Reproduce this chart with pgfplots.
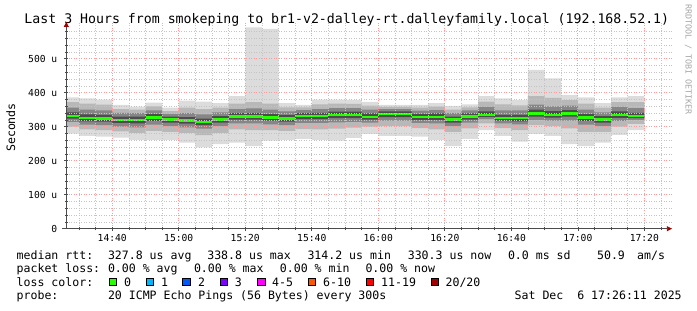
\documentclass[border=0pt]{standalone}
\usepackage{fontspec}
\setmainfont{DejaVu Sans Mono}
\usepackage{pgfplots}
\pgfplotsset{compat=1.18}
\usepackage{pgfplotstable}
\usepgfplotslibrary{fillbetween}
\usetikzlibrary{arrows.meta}

\definecolor{smokeA}{HTML}{DCDCDC}
\definecolor{smokeB}{HTML}{B8B8B8}
\definecolor{smokeC}{HTML}{868686}
\definecolor{smokeD}{HTML}{4C4C4C}
\definecolor{lc0}{HTML}{26FF00}
\definecolor{lc1}{HTML}{00B8FF}
\definecolor{lc2}{HTML}{0059FF}
\definecolor{lc3}{HTML}{7E00FF}
\definecolor{lc4}{HTML}{FF00FF}
\definecolor{lc6}{HTML}{FF5500}
\definecolor{lc11}{HTML}{FF0000}
\definecolor{lc20}{HTML}{A10000}
\definecolor{arr}{HTML}{A00000}
\definecolor{mgrid}{HTML}{FF9A9A}
\definecolor{ngrid}{HTML}{C4C4C4}

% t = start of 5-minute step (minutes after 14:00); values in microseconds
\pgfplotstableread{
t   mn  l1  l2  l3  md  h3  h2  h1  mx
25  280 300 314 324 332 342 356 372 386
30  273 292 306 316 325 336 350 368 383
35  271 290 305 315 324 335 348 365 380
40  268 286 300 311 320 330 341 352 364
45  261 282 298 310 320 330 340 350 359
50  261 288 306 317 327 337 348 360 371
55  261 285 302 312 321 330 338 346 356
60  253 282 298 309 318 328 340 356 377
65  239 275 294 305 314 324 336 352 374
70  249 282 302 312 321 331 342 356 369
75  253 292 310 321 330 340 352 368 390
80  243 290 310 321 330 340 354 372 592
85  259 290 307 318 327 337 350 368 588
90  261 288 305 315 324 334 345 357 369
95  264 293 311 322 331 340 349 357 364
100 261 292 311 322 331 341 352 366 380
105 259 294 313 325 334 344 355 368 380
110 267 297 314 325 334 344 355 367 379
115 279 300 312 321 329 339 350 362 373
120 273 302 318 328 337 345 352 358 364
125 273 302 318 328 337 345 352 358 364
130 271 296 311 320 329 338 347 356 364
135 261 292 310 320 329 339 349 359 369
140 243 285 302 312 321 330 340 350 361
145 264 295 312 321 330 339 348 357 366
150 290 310 322 329 335 345 358 374 390
155 273 296 310 318 325 335 348 366 383
160 256 290 307 316 325 335 348 363 379
165 279 305 320 330 339 350 365 390 467
170 273 302 318 327 335 346 360 385 442
175 249 295 318 330 339 349 362 378 393
180 243 285 306 317 327 337 350 368 386
185 253 285 302 312 321 331 342 356 369
190 276 300 317 326 335 345 358 372 386
195 290 308 320 325 331 341 355 372 390
200 290 308 320 325 331 341 355 372 390
}\smoke

\newcommand\lt[3]{\node[anchor=base west, inner sep=0pt, font=\fontsize{11.6}{12}\selectfont] at (#1,#2) {#3};}
\newcommand\lbox[3]{\filldraw[fill=#3, draw=black, line width=0.7bp] (#1,24.3) rectangle (#2,31.7);}

\begin{document}
\begin{tikzpicture}[x=1bp,y=1bp]
\path (0,0) rectangle (697,310);
\begin{axis}[
  at={(66.3bp,81.3bp)}, anchor=south west,
  scale only axis, width=605.6bp, height=206.7bp,
  xmin=26.18, xmax=208.3, ymin=0, ymax=608,
  axis on top,
  axis lines=left,
  axis line style={draw=black!70, line width=0.8bp, -{Triangle[length=5bp,width=5bp,color=arr,fill=arr]}},
  x axis line style={shorten <=-4bp},
  xtick={40,60,...,200},
  xticklabels={14:40,15:00,15:20,15:40,16:00,16:20,16:40,17:00,17:20},
  minor xtick={30,35,45,50,55,65,70,75,85,90,95,105,110,115,125,130,135,145,150,155,165,170,175,185,190,195,205},
  ytick={0,100,...,500},
  yticklabels={0,100 u,200 u,300 u,400 u,500 u},
  minor ytick={20,40,60,80,120,140,160,180,220,240,260,280,320,340,360,380,420,440,460,480,520,540,560,580},
  tick align=center,
  major tick length=4bp, minor tick length=3bp,
  tick style={black!70, line width=0.6bp},
  grid=both,
  major grid style={mgrid, line width=0.8bp, dash pattern=on 1bp off 1.5bp},
  minor grid style={ngrid, line width=0.7bp, dash pattern=on 1bp off 1.5bp},
  ticklabel style={font=\fontsize{9.7}{10}\selectfont},
  yticklabel style={xshift=-3.5bp},
  /pgf/number format/assume math mode=true,
]
\addplot[name path=mx, draw=none, const plot, forget plot] table[x=t,y=mx]{\smoke};
\addplot[name path=mn, draw=none, const plot, forget plot] table[x=t,y=mn]{\smoke};
\addplot[name path=h1, draw=none, const plot, forget plot] table[x=t,y=h1]{\smoke};
\addplot[name path=l1, draw=none, const plot, forget plot] table[x=t,y=l1]{\smoke};
\addplot[name path=h2, draw=none, const plot, forget plot] table[x=t,y=h2]{\smoke};
\addplot[name path=l2, draw=none, const plot, forget plot] table[x=t,y=l2]{\smoke};
\addplot[name path=h3, draw=none, const plot, forget plot] table[x=t,y=h3]{\smoke};
\addplot[name path=l3, draw=none, const plot, forget plot] table[x=t,y=l3]{\smoke};
\addplot[smokeA, draw=none] fill between[of=mx and mn];
\addplot[smokeB, draw=none] fill between[of=h1 and l1];
\addplot[smokeC, draw=none] fill between[of=h2 and l2];
\addplot[smokeD, draw=none] fill between[of=h3 and l3];
\addplot[lc0, line width=2.2bp, jump mark left, mark=none] table[x=t,y=md]{\smoke};
\end{axis}

\node[anchor=west, inner sep=0pt, font=\fontsize{13.27}{14}\selectfont] at (24.3,290.5) {Last 3 Hours from smokeping to br1-v2-dalley-rt.dalleyfamily.local (192.168.52.1)};
\node[rotate=90, inner sep=0pt, font=\fontsize{11.6}{12}\selectfont] at (10.7,182.5) {Seconds};
\node[rotate=-90, anchor=west, inner sep=0pt, text=black!35, font=\fontsize{8.4}{9}\selectfont] at (688.3,306) {RRDTOOL / TOBI OETIKER};

\lt{16.5}{50.8}{median rtt:}
\lt{107.8}{50.8}{327.8 us avg}
\lt{207.1}{50.8}{338.8 us max}
\lt{307.3}{50.8}{314.2 us min}
\lt{407.6}{50.8}{330.3 us now}
\lt{507.8}{50.8}{0.0 ms sd}
\lt{596.9}{50.8}{50.9}
\lt{637.0}{50.8}{am/s}

\lt{16.5}{37.5}{packet loss:}
\lt{107.8}{37.5}{0.00 \% avg}
\lt{193.8}{37.5}{0.00 \% max}
\lt{279.7}{37.5}{0.00 \% min}
\lt{365.3}{37.5}{0.00 \% now}

\lt{16.5}{23.5}{loss color:}
\lbox{109}{116.7}{lc0}   \lt{123.8}{23.5}{0}
\lbox{146}{153.7}{lc1}   \lt{161}{23.5}{1}
\lbox{182.6}{190.3}{lc2} \lt{197.8}{23.5}{2}
\lbox{220}{227.7}{lc3}   \lt{234.7}{23.5}{3}
\lbox{257.5}{265.2}{lc4} \lt{272}{23.5}{4-5}
\lbox{308}{315.7}{lc6}   \lt{323}{23.5}{6-10}
\lbox{366}{373.7}{lc11}  \lt{381}{23.5}{11-19}
\lbox{431}{438.7}{lc20}  \lt{445.4}{23.5}{20/20}

\lt{16.5}{10.1}{probe:}
\lt{107.8}{10.1}{20 ICMP Echo Pings (56 Bytes) every 300s}
\lt{514.5}{10.1}{Sat Dec\ \ 6 17:26:11 2025}
\end{tikzpicture}
\end{document}
